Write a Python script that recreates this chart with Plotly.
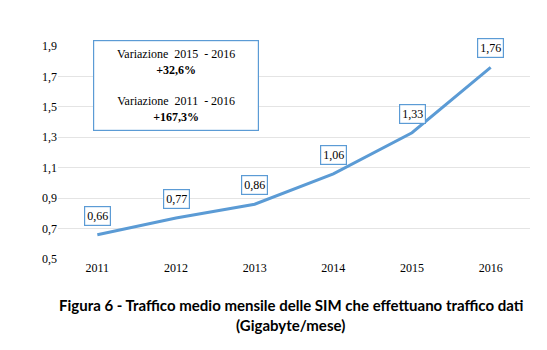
import plotly.graph_objects as go

years = ["2011", "2012", "2013", "2014", "2015", "2016"]
values = [0.66, 0.77, 0.86, 1.06, 1.33, 1.76]
labels = ["0,66", "0,77", "0,86", "1,06", "1,33", "1,76"]
tick_vals = [0.5, 0.7, 0.9, 1.1, 1.3, 1.5, 1.7, 1.9]
tick_text = ["0,5", "0,7", "0,9", "1,1", "1,3", "1,5", "1,7", "1,9"]
box_lines = ["Variazione  2015  - 2016", "<b>+32,6%</b>", "", "Variazione  2011  - 2016", "<b>+167,3%</b>"]
title_lines = ["Figura 6 - Traffico medio mensile delle SIM che effettuano traffico dati", "(Gigabyte/mese)"]

blue = "#5B9BD5"
serif = "Liberation Serif"
xpos = list(range(len(years)))

fig = go.Figure()
fig.add_trace(go.Scatter(x=xpos, y=values, mode="lines",
                         line=dict(color=blue, width=3), hoverinfo="skip"))

for x, y, t in zip(xpos, values, labels):
    fig.add_annotation(x=x, y=y, text=t, showarrow=False, yshift=19,
                       font=dict(family=serif, size=12, color="#000"),
                       bgcolor="white", bordercolor=blue, borderwidth=1.2, borderpad=2)

fig.add_annotation(xref="paper", yref="paper", x=0.074, y=1.03, xanchor="left", yanchor="top",
                   text="<br>".join(box_lines), showarrow=False, align="center",
                   font=dict(family=serif, size=12, color="#000"),
                   bgcolor="white", bordercolor=blue, borderwidth=1.2, borderpad=6, width=152)

for i, line in enumerate(title_lines):
    fig.add_annotation(xref="paper", yref="paper", x=0.493, y=-0.215 - i * 0.093,
                       xanchor="center", yanchor="middle", text="<b>" + line + "</b>",
                       showarrow=False, font=dict(family="Lato", size=15, color="#000"))

fig.update_layout(
    width=547, height=350, margin=dict(l=58, r=17, t=46, b=91),
    paper_bgcolor="white", plot_bgcolor="white", showlegend=False,
    xaxis=dict(range=[-0.5, 5.5], tickvals=xpos, ticktext=years, showgrid=False,
               zeroline=False, showline=False, ticks="",
               tickfont=dict(family=serif, size=12, color="#000")),
    yaxis=dict(range=[0.5, 1.9], tickvals=tick_vals, ticktext=tick_text,
               showgrid=True, gridcolor="#E4E4E4", gridwidth=1, zeroline=False,
               showline=False, ticks="", ticklen=0,
               tickfont=dict(family=serif, size=12, color="#000")),
)

fig.write_html("out.html")
